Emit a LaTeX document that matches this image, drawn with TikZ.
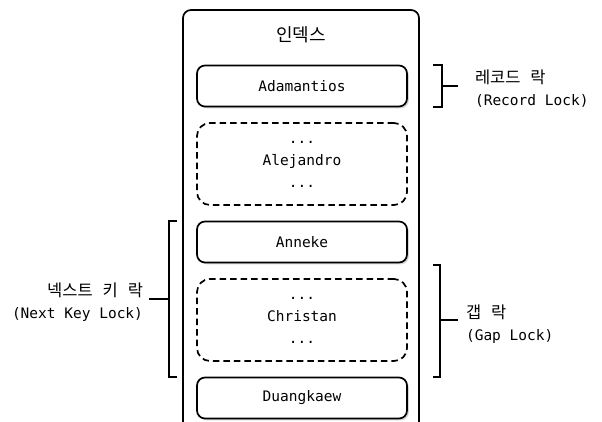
\documentclass[tikz,border=0pt]{standalone}
\usepackage{fontspec}
\setmonofont{DejaVu Sans Mono}
\newfontfamily\krfont{Noto Sans CJK KR}
\usetikzlibrary{positioning,shadows}

\newcommand{\recwidth}[0]{(210pt)}
\newcommand{\recheight}[0]{(41pt)}
\newcommand{\kr}[0]{\krfont\fontsize{16.5}{18}\selectfont\spaceskip=0.6em\relax}
\tikzstyle{lockbrace} = [draw=black,line width=1.8pt]
\tikzstyle{node}=[
  align=center,
  anchor=center,
  inner sep=0pt,
  font=\ttfamily\fontsize{14.5}{22}\selectfont,
]
\tikzstyle{record}=[
  node,
  rectangle,
  draw=black,
  line width=1.7pt,
  fill=white,
  rounded corners=8pt,
  minimum height=\recheight,
  minimum width=\recwidth,
  drop shadow={shadow xshift=1.8pt,shadow yshift=-1.8pt,opacity=0.35},
]
\tikzstyle{gap}=[
  node,
  rectangle,
  draw=black,
  line width=1.7pt,
  dash pattern=on 6.5pt off 4pt,
  rounded corners=13pt,
  minimum height=(82pt),
  minimum width=\recwidth,
]
\tikzstyle{locklabel}=[
  node,
  align=left,
  anchor=west,
]

\begin{document}
\begin{tikzpicture}[x=1pt,y=1pt]
  \useasboundingbox (0,0) rectangle (602,421);

  % index frame, open at the bottom
  \draw[line width=1.7pt,rounded corners=8pt] (183,-10) -- (183,411) -- (419,411) -- (419,-10);
  \node[node] (indexlabel) at (301,386) {\kr\fontsize{18}{20}\selectfont 인덱스};

  \node[record] (adamantios) at (302,335) {Adamantios};
  \node[gap] (alejandro) at ([yshift=-78pt] adamantios.center) {...\\Alejandro\\...};
  \node[record] (anneke) at ([yshift=-78pt] alejandro.center) {Anneke};
  \node[gap] (christan) at ([yshift=-78pt] anneke.center) {...\\Christan\\...};
  \node[record] (duangkaew) at ([yshift=-78pt] christan.center) {Duangkaew};

  % record lock
  \draw[lockbrace] ([xshift=25pt] adamantios.north east) -- ++(9,0) |- ([xshift=25pt] adamantios.south east);
  \coordinate (recordmid) at ([xshift=34pt] adamantios.east);
  \node[locklabel] (recordlock) at ([xshift=33pt,yshift=-3pt] recordmid) {{\kr 레코드 락}\\(Record Lock)};
  \draw[lockbrace] (recordmid) -- ([xshift=-17pt] recordlock.west |- recordmid);

  % gap lock
  \draw[lockbrace] ([xshift=25pt,yshift=-2pt] anneke.south east) -- ++(7,0) |- ([xshift=25pt] duangkaew.north east);
  \coordinate (gapmid) at ([xshift=32pt] christan.east);
  \node[locklabel] (gaplock) at ([xshift=26pt,yshift=-4pt] gapmid) {{\kr 갭 락}\\(Gap Lock)};
  \draw[lockbrace] (gapmid) -- ([xshift=-8pt] gaplock.west |- gapmid);

  % next key lock
  \draw[lockbrace] ([xshift=-19pt] anneke.north west) -- ++(-8,0) |- ([xshift=-19pt] duangkaew.north west);
  \coordinate (nextmid) at ([xshift=-27pt,yshift=21pt] christan.west);
  \node[locklabel,anchor=east,align=right] (nextkeylock) at ([xshift=-26pt,yshift=-3pt] nextmid) {{\kr 넥스트 키 락}\\(Next Key Lock)};
  \draw[lockbrace] (nextmid) -- ([xshift=6pt] nextkeylock.east |- nextmid);
\end{tikzpicture}
\end{document}
